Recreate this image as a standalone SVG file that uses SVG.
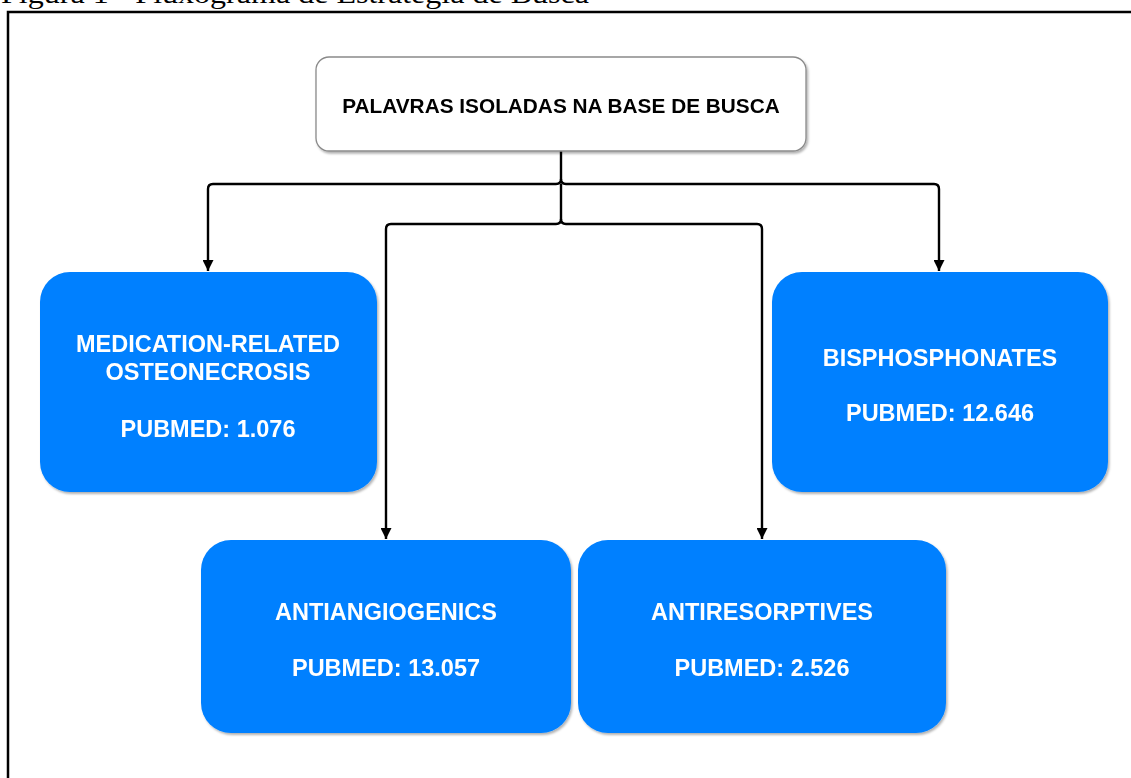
<svg xmlns="http://www.w3.org/2000/svg" width="1131" height="778" viewBox="0 0 1131 778">
<style>
.title{font-family:"Liberation Serif",serif;font-size:28px;fill:#000}
.frame{stroke:#000;stroke-width:2.5;fill:none}
.top{fill:#fff;stroke:#8a8a8a;stroke-width:1.3}
.blue{fill:#0080ff}
.t1{font-family:"Liberation Sans",Arial,sans-serif;font-weight:bold;font-size:20.8px;fill:#000;text-anchor:middle}
.t2{font-family:"Liberation Sans",Arial,sans-serif;font-weight:bold;font-size:23.5px;fill:#fff;text-anchor:middle}
.conn{stroke:#000;stroke-width:2.4;fill:none}
</style>
<defs>
<filter id="sh" x="-10%" y="-10%" width="120%" height="130%">
<feDropShadow dx="1.5" dy="2" stdDeviation="1.2" flood-color="#000" flood-opacity="0.3"/>
</filter>
<marker id="arr" viewBox="0 0 10 10" refX="10" refY="5" markerWidth="12" markerHeight="11" markerUnits="userSpaceOnUse" orient="auto">
<path d="M0,0 L10,5 L0,10 Z" fill="#000"/>
</marker>
</defs>
<rect width="1131" height="778" fill="#fff"/>
<text class="title" x="1" y="3" textLength="588" lengthAdjust="spacingAndGlyphs">Figura 1 - Fluxograma de Estratégia de Busca</text>
<path class="frame" d="M8,778 L8,12 L1131,12"/>
<g id="connectors">
<path class="conn" d="M561,151 L561,179 Q561,184 556,184 L213,184 Q208,184 208,189 L208,271" marker-end="url(#arr)"/>
<path class="conn" d="M561,179 Q561,184 566,184 L934,184 Q939,184 939,189 L939,271" marker-end="url(#arr)"/>
<path class="conn" d="M561,184 L561,219 Q561,224 556,224 L391,224 Q386,224 386,229 L386,539" marker-end="url(#arr)"/>
<path class="conn" d="M561,219 Q561,224 566,224 L757,224 Q762,224 762,229 L762,539" marker-end="url(#arr)"/>
</g>
<g id="node-top" filter="url(#sh)">
<rect class="top" x="316" y="57" width="490" height="94" rx="13"/>
<text class="t1" x="561" y="113">PALAVRAS ISOLADAS NA BASE DE BUSCA</text>
</g>
<g id="node-mro" filter="url(#sh)">
<rect class="blue" x="40" y="272" width="337" height="220" rx="30"/>
<text class="t2" x="208" y="352">MEDICATION-RELATED</text>
<text class="t2" x="208" y="380">OSTEONECROSIS</text>
<text class="t2" x="208" y="437">PUBMED: 1.076</text>
</g>
<g id="node-bis" filter="url(#sh)">
<rect class="blue" x="772" y="272" width="336" height="220" rx="30"/>
<text class="t2" x="940" y="366">BISPHOSPHONATES</text>
<text class="t2" x="940" y="421">PUBMED: 12.646</text>
</g>
<g id="node-ang" filter="url(#sh)">
<rect class="blue" x="201" y="540" width="370" height="193" rx="30"/>
<text class="t2" x="386" y="620">ANTIANGIOGENICS</text>
<text class="t2" x="386" y="676">PUBMED: 13.057</text>
</g>
<g id="node-res" filter="url(#sh)">
<rect class="blue" x="578" y="540" width="368" height="193" rx="30"/>
<text class="t2" x="762" y="620">ANTIRESORPTIVES</text>
<text class="t2" x="762" y="676">PUBMED: 2.526</text>
</g>
</svg>
